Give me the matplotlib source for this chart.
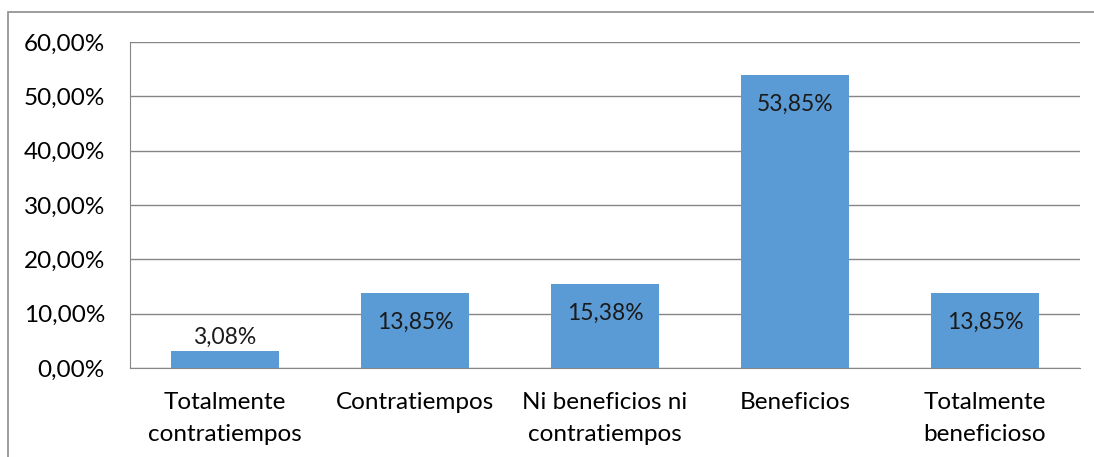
# Gráfico de barras: percepción de beneficios / contratiempos
import matplotlib.pyplot as plt
from matplotlib.patches import Rectangle

categorias = ["Totalmente\ncontratiempos", "Contratiempos", "Ni beneficios ni\ncontratiempos",
              "Beneficios", "Totalmente\nbeneficioso"]
porcentajes = [3.08, 13.85, 15.38, 53.85, 13.85]
ticks_y = [0, 10, 20, 30, 40, 50, 60]

plt.rcParams['font.family'] = ['Lato', 'DejaVu Sans']
fs = 17.5

fig = plt.figure(figsize=(10.94, 4.57), dpi=100)
ax = fig.add_axes([130 / 1094, 1 - 368 / 457, 950 / 1094, 326 / 457])

x = range(len(categorias))
bars = ax.bar(x, porcentajes, width=0.57, color="#5B9BD5", zorder=3)

ax.set_xlim(-0.5, len(categorias) - 0.5)
ax.set_ylim(0, 60)
ax.set_yticks(ticks_y)
ax.set_yticklabels([f"{v:.2f}%".replace(".", ",") for v in ticks_y], fontsize=fs)
ax.set_xticks(list(x))
ax.set_xticklabels(categorias, fontsize=fs, linespacing=1.65)
ax.tick_params(axis="y", length=0, pad=18)
ax.tick_params(axis="x", length=0, pad=17)

ax.grid(axis="y", color="#868686", linewidth=1, zorder=0)
for lado in ["top", "right"]:
    ax.spines[lado].set_visible(False)
ax.spines["left"].set_color("#868686")
ax.spines["bottom"].set_color("#868686")

# Etiquetas de valor
for b, v in zip(bars, porcentajes):
    texto = f"{v:.2f}%".replace(".", ",")
    if v < 5:
        dy = 10
    else:
        dy = -21
    ax.annotate(texto, (b.get_x() + b.get_width() / 2, v), xytext=(0, dy),
                textcoords="offset points", ha="center", va="center", fontsize=16.5,
                color="#1a1a1a", zorder=4)

# Borde del área del gráfico
fig.patches.append(Rectangle((8 / 1094, -0.2), 1.2, 1.2 - 12 / 457, transform=fig.transFigure,
                             fill=False, edgecolor="#8c8c8c", linewidth=1.2))

plt.savefig("out.png", dpi=100)
